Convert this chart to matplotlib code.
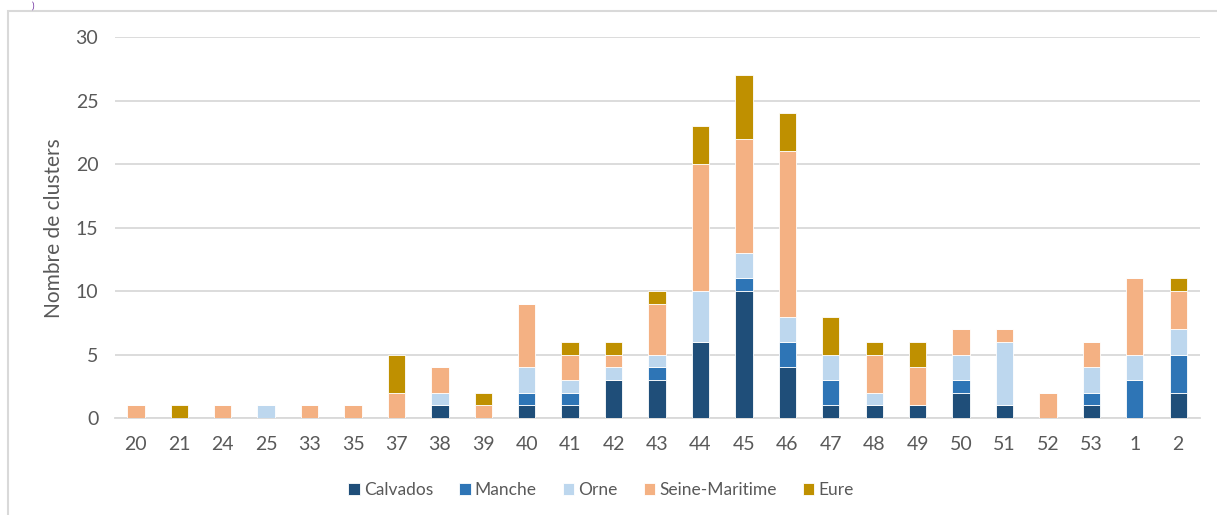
import matplotlib.pyplot as plt
import numpy as np
from matplotlib.patches import Rectangle

plt.rcParams['font.family'] = ['Lato', 'DejaVu Sans']

semaines = ['20', '21', '24', '25', '33', '35', '37', '38', '39', '40', '41', '42', '43',
            '44', '45', '46', '47', '48', '49', '50', '51', '52', '53', '1', '2']
calvados = [0, 0, 0, 0, 0, 0, 0, 1, 0, 1, 1, 3, 3, 6, 10, 4, 1, 1, 1, 2, 1, 0, 1, 0, 2]
manche = [0, 0, 0, 0, 0, 0, 0, 0, 0, 1, 1, 0, 1, 0, 1, 2, 2, 0, 0, 1, 0, 0, 1, 3, 3]
orne = [0, 0, 0, 1, 0, 0, 0, 1, 0, 2, 1, 1, 1, 4, 2, 2, 2, 1, 0, 2, 5, 0, 2, 2, 2]
seine_maritime = [1, 0, 1, 0, 1, 1, 2, 2, 1, 5, 2, 1, 4, 10, 9, 13, 0, 3, 3, 2, 1, 2, 2, 6, 3]
eure = [0, 1, 0, 0, 0, 0, 3, 0, 1, 0, 1, 1, 1, 3, 5, 3, 3, 1, 2, 0, 0, 0, 0, 0, 1]

series = [('Calvados', calvados, '#1F4E79'),
          ('Manche', manche, '#2E75B6'),
          ('Orne', orne, '#BDD7EE'),
          ('Seine-Maritime', seine_maritime, '#F4B183'),
          ('Eure', eure, '#BF9000')]

txt = '#595959'
fig = plt.figure(figsize=(12.17, 5.15), dpi=100)
ax = fig.add_axes([0.0945, 0.188, 0.8915, 0.74])

x = np.arange(len(semaines))
bottom = np.zeros(len(semaines))
for nom, vals, col in series:
    vals = np.array(vals)
    ax.bar(x, vals, 0.4, bottom=bottom, color=col, label=nom,
           edgecolor='white', linewidth=0.6, zorder=3)
    bottom += vals

ax.set_xlim(-0.48, 24.5)
ax.set_ylim(0, 30)
ax.set_yticks(range(0, 31, 5))
ax.set_xticks(x)
ax.set_xticklabels(semaines)
ax.grid(axis='y', color='#D9D9D9', linewidth=1.3, zorder=0)
for s in ['top', 'right', 'left']:
    ax.spines[s].set_visible(False)
ax.spines['bottom'].set_color('#D9D9D9')
ax.spines['bottom'].set_linewidth(1.3)
ax.tick_params(length=0, labelsize=14, colors=txt, pad=13)
ax.tick_params(axis='y', pad=12)
ax.set_ylabel('Nombre de clusters', fontsize=15, color=txt, labelpad=8)

fig.legend(loc='center', bbox_to_anchor=(0.494, 0.048), ncol=5, frameon=False,
           fontsize=12.5, labelcolor=txt, handlelength=0.65, handleheight=0.65,
           handletextpad=0.25, columnspacing=1.5)

# cadre du graphique
fig.patches.append(Rectangle((8 / 1217, -0.1), 1.1, 1.1 - 11 / 515,
                             transform=fig.transFigure, fill=False,
                             edgecolor='#D9D9D9', linewidth=1.5))
fig.text(0.026, 0.988, ')', color='#7030A0', fontsize=7, va='center')

fig.savefig('out.png', dpi=100)
